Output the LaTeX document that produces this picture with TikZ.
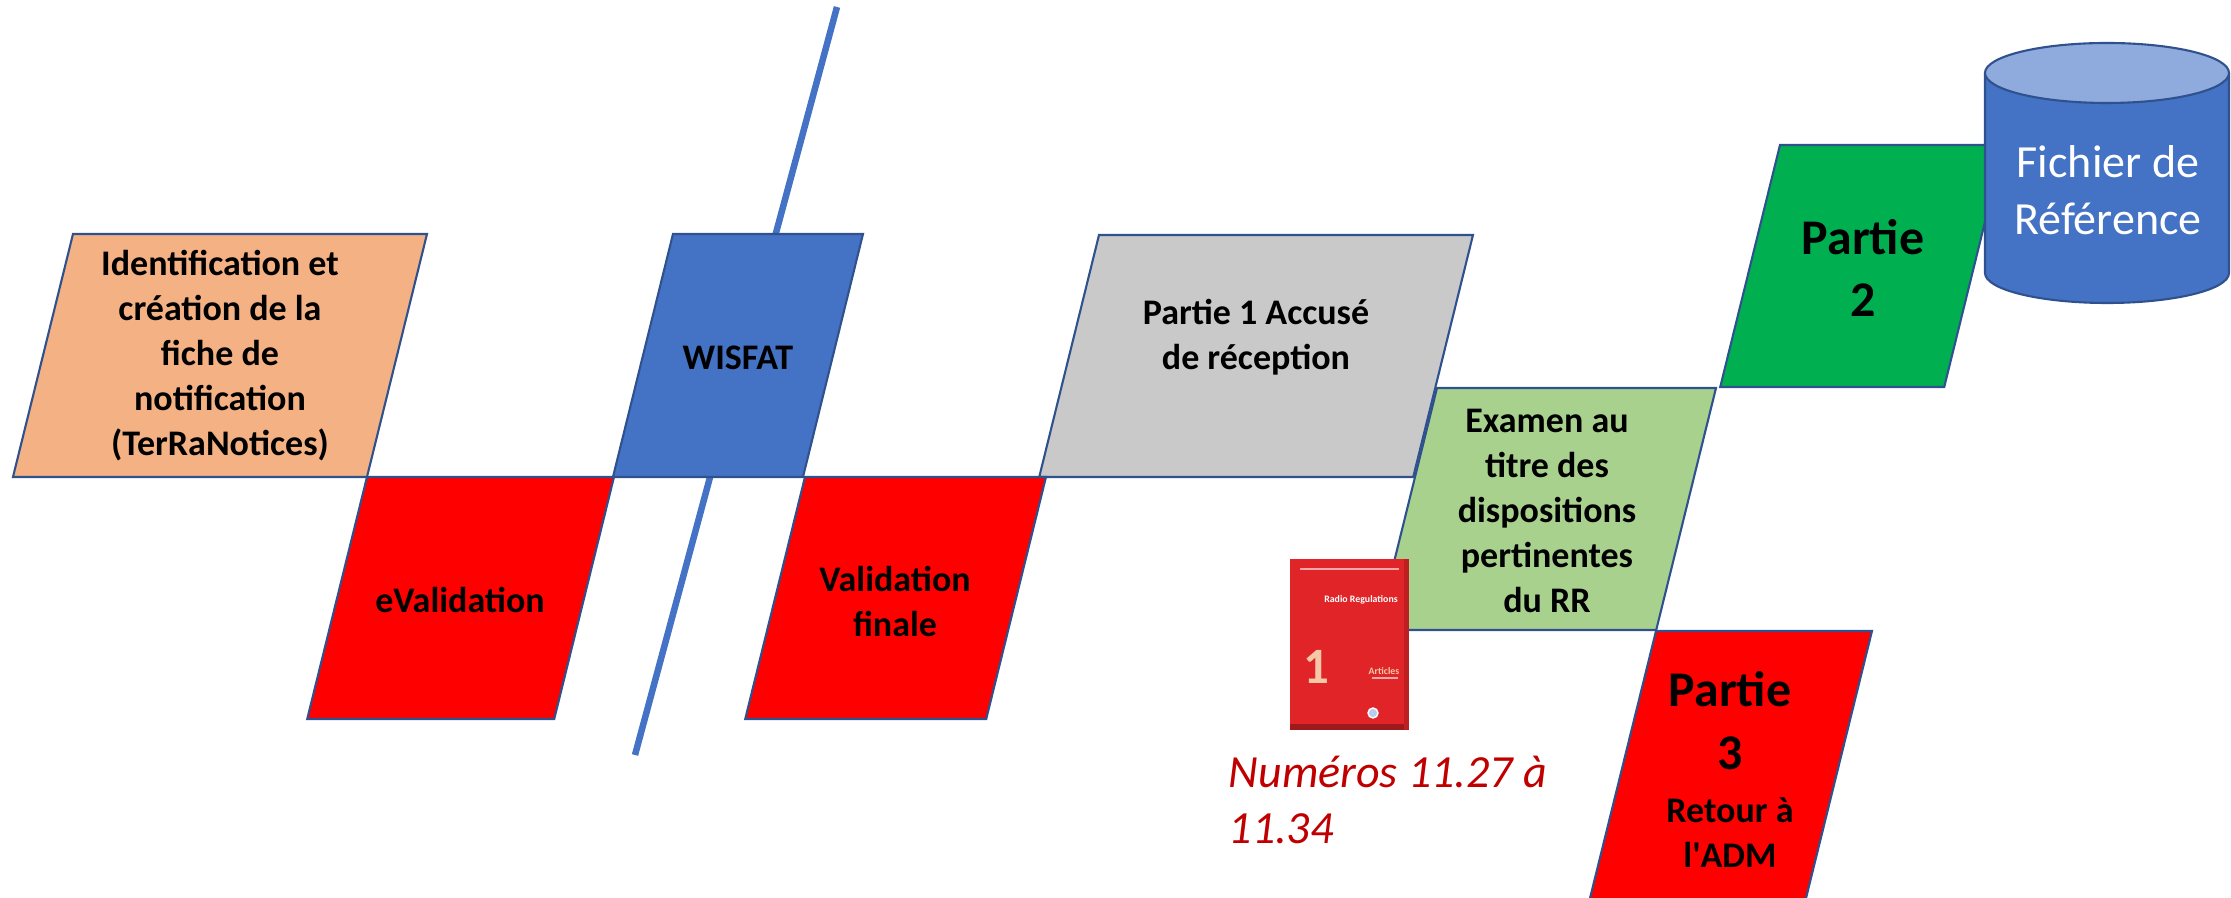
\documentclass[tikz,border=0pt]{standalone}
\usepackage{fontspec}
\setmainfont{Carlito}
\usepackage{tikz}
\usetikzlibrary{calc}
\definecolor{peach}{HTML}{F4B183}
\definecolor{alarm}{HTML}{FF0000}
\definecolor{itublue}{HTML}{4472C4}
\definecolor{itutop}{HTML}{8FAADC}
\definecolor{paper}{HTML}{C9C9C9}
\definecolor{sage}{HTML}{A9D18E}
\definecolor{leaf}{HTML}{00B050}
\definecolor{boxline}{HTML}{2F528F}
\definecolor{darkred}{HTML}{C00000}
\definecolor{bookred}{HTML}{E02427}
\tikzset{
      box/.style={draw=boxline, line width=0.6pt},   % outline of every step
      para/.style n args={4}{   % top left corner, width, height
                  insert path={(#1,#2) -- ++(#3,0) -- ++({-0.247*#4},#4) -- ++(-#3,0) -- cycle}},
      steptext/.style={font=\bfseries\fontsize{10.24}{12.8}\selectfont, align=center, inner sep=0pt},
      bigtext/.style={font=\bfseries\fontsize{14.2}{17.9}\selectfont, align=center, inner sep=0pt},
      tiny/.style={font=\bfseries\fontsize{2.8}{3}\selectfont, inner sep=0pt}
}
\begin{document}
\begin{tikzpicture}[x=0.1mm, y=-0.1mm]
                  \useasboundingbox (0,0) rectangle (2231,898);
                  \clip (0,0) rectangle (2231,898);
                  % the cut between the two sides
                  \coordinate (cut top) at (837,7);
                  \coordinate (cut bottom) at (635,755);
                  \draw [itublue, line width=1.85pt] (cut top) -- (cut bottom);
                  % upper row
                  \filldraw [box, fill=peach, para={73}{234}{354}{243}];
                  \node (ident) at (220,356) [steptext] {Identification et\\création de la\\fiche de\\notification\\(TerRaNotices)};
                  \filldraw [box, fill=itublue, para={673}{234}{190}{243}];
                  \node (wisfat) at (738,358) [steptext] {WISFAT};
                  \filldraw [box, fill=paper, para={1099}{235}{374}{242}];
                  \node (partie1) at (1256,337) [steptext] {Partie 1 Accusé\\de réception};
                  % lower row
                  \filldraw [box, fill=alarm, para={367}{477}{247}{242}];
                  \node (evalid) at (460,600) [steptext] {eValidation};
                  \filldraw [box, fill=alarm, para={805}{477}{241}{242}];
                  \node (finale) at (895,601) [steptext] {Validation\\finale};
                  % examination and the two outcomes
                  \filldraw [box, fill=sage, para={1437}{388}{279}{242}];
                  \node (examen) at (1547,511) [steptext] {Examen au\\titre des\\dispositions\\pertinentes\\du RR};
                  \filldraw [box, fill=leaf, para={1780}{145}{224}{242}];
                  \node (partie2) at (1863,268) [bigtext] {Partie\\2};
                  \filldraw [box, fill=alarm, para={1656}{631}{216}{276}];
                  \node (partie3) at (1730,721) [bigtext] {Partie\\3};
                  \node (retour) at (1730,833) [steptext] {Retour à\\l\textquotesingle ADM};
                  % reference file
                  \filldraw [box, fill=itublue] (1985,73) -- (1985,273)
                        arc[start angle=180, end angle=0, x radius=122, y radius=30] -- (2229,73);
                  \filldraw [box, fill=itutop] (2107,73) ellipse [x radius=122, y radius=30];
                  \node (fichier) at (2108,190) [align=center, inner sep=0pt, text=white,
                        font=\fontsize{13.1}{16.2}\selectfont] {Fichier de\\Référence};
                  % the Radio Regulations book
                  \fill [bookred] (1290,559) rectangle (1409,730);
                  \fill [bookred!70!black] (1290,724) rectangle (1409,730);
                  \fill [bookred!85!black] (1404,559) rectangle (1409,730);
                  \draw [white!60!bookred, line width=0.3pt] (1300,569) -- (1399,569);
                  \node (rrtitle) at (1361,600) [tiny, text=white] {Radio Regulations};
                  \node (rrvol) at (1316,667) [font=\bfseries\fontsize{14.5}{14.5}\selectfont, text=peach!70!white, inner sep=0pt] {1};
                  \node (rrpart) at (1384,671) [tiny, text=peach!70!white] {Articles};
                  \draw [white!60!bookred, line width=0.3pt] (1372,678) -- (1398,678);
                  \filldraw [fill=itutop!60!white, draw=white] (1373,713) circle (5);
                  \node (numeros) at (1228,844) [anchor=base west, align=left, inner sep=0pt, text=darkred,
                        font=\itshape\fontsize{13.1}{16.2}\selectfont] {Numéros 11.27 à\\11.34};
\end{tikzpicture}
\end{document}
